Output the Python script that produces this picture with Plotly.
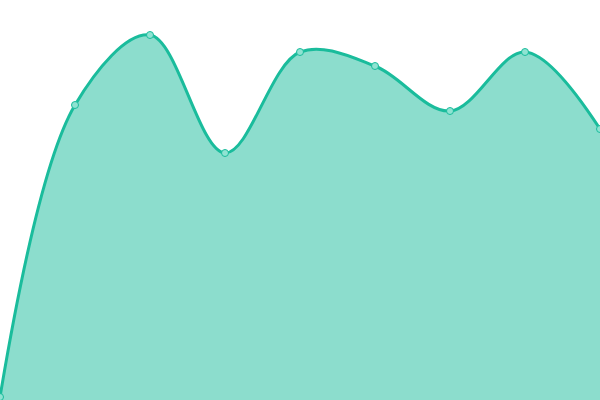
import plotly.graph_objects as go

# index of each point along the x axis, and its value
steps = [0, 1, 2, 3, 4, 5, 6, 7, 8]
values = [3, 295, 365, 247, 348, 334, 289, 348, 271]

_LINE = "#1abc9c"
_FILL = "rgba(26,188,156,0.5)"

fig = go.Figure(go.Scatter(
    x=steps, y=values, mode="lines+markers",
    line=dict(color=_LINE, width=3, shape="spline", smoothing=1.0),
    fill="tozeroy", fillcolor=_FILL,
    marker=dict(size=7, color="#8fe3d2", line=dict(color=_LINE, width=1)),
    hoverinfo="skip",
))

fig.update_layout(
    width=600, height=400,
    margin=dict(l=0, r=0, t=0, b=0),
    paper_bgcolor="white", plot_bgcolor="white",
    showlegend=False,
)
fig.update_xaxes(range=[0, 8], visible=False)
fig.update_yaxes(range=[0, 400], visible=False)

# drop the browser's default body margin so the 600x400 figure fills the window
fig.write_html(
    "out.html",
    config=dict(displayModeBar=False),
    post_script="document.body.style.margin='0';document.body.style.overflow='hidden';",
)
